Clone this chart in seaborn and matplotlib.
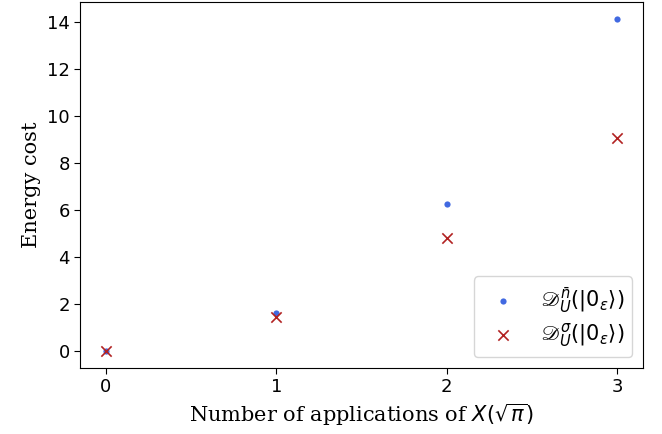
import numpy as np
import pandas as pd
import matplotlib
matplotlib.use("Agg")
import matplotlib.pyplot as plt
import seaborn as sns

# data
applications = [0, 1, 2, 3]
cost_nbar = [0.0, 1.6, 6.28, 14.15]
cost_sigma = [0.0, 1.45, 4.83, 9.07]

sns.set_style("ticks", {"axes.edgecolor": "black", "text.color": "black",
                        "xtick.color": "black", "ytick.color": "black",
                        "axes.labelcolor": "black"})
plt.rcParams['font.family'] = ['DejaVu Sans']
plt.rcParams['mathtext.fontset'] = 'dejavusans'

fig = plt.figure(figsize=(6.62, 4.34), dpi=100)
ax = fig.add_axes([0.121, 0.153, 0.850, 0.842])

sns.scatterplot(x=applications, y=cost_nbar, ax=ax, color='royalblue', marker='o', s=20,
                linewidth=0, label=r'$\mathscr{D}_U^{\bar{n}}(|0_\varepsilon\rangle)$')
sns.scatterplot(x=applications, y=cost_sigma, ax=ax, color='firebrick', marker='x', s=55,
                linewidth=1.2, label=r'$\mathscr{D}_U^{\sigma}(|0_\varepsilon\rangle)$')

ax.set_xticks(applications)
ax.set_yticks([0, 2, 4, 6, 8, 10, 12, 14])
ax.tick_params(labelsize=13, direction='out', length=4, color='black')
ax.set_xlabel(r'Number of applications of $X(\sqrt{\pi})$', fontsize=15, family='DejaVu Serif')
ax.set_ylabel('Energy cost', fontsize=15, family='DejaVu Serif')
ax.legend(loc='lower right', fontsize=15, labelspacing=0.3)

fig.savefig('out.png', dpi=100)
